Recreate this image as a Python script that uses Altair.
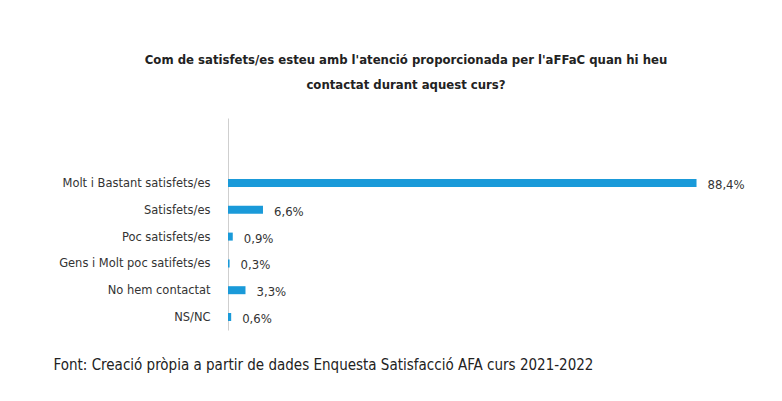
import altair as alt
import pandas as pd

categories = [
    "Molt i Bastant satisfets/es",
    "Satisfets/es",
    "Poc satisfets/es",
    "Gens i Molt poc satifets/es",
    "No hem contactat",
    "NS/NC",
]
values = [88.4, 6.6, 0.9, 0.3, 3.3, 0.6]
value_labels = ["88,4%", "6,6%", "0,9%", "0,3%", "3,3%", "0,6%"]

title_lines = [
    "Com de satisfets/es esteu amb l'atenció proporcionada per l'aFFaC quan hi heu",
    "contactat durant aquest curs?",
]
footer = "Font: Creació pròpia a partir de dades Enquesta Satisfacció AFA curs 2021-2022"

FONT = "Liberation Sans Narrow, DejaVu Sans Condensed, sans-serif"
BAR = "#1a9ad9"

df = pd.DataFrame({"cat": categories, "val": values, "lab": value_labels})

y = alt.Y(
    "cat:N",
    sort=categories,
    scale=alt.Scale(paddingOuter=1, paddingInner=0.09, align=0.985),
    axis=alt.Axis(
        title=None,
        ticks=False,
        domainColor="#cfcfcf",
        labelFont=FONT,
        labelFontSize=12.75,
        labelColor="#333333",
        labelPadding=18,
        labelLimit=300,
    ),
)
x = alt.X(
    "val:Q",
    scale=alt.Scale(domain=[0, 100]),
    axis=alt.Axis(
        labels=False,
        ticks=False,
        domain=False,
        grid=False,
        title=footer,
        titleFont=FONT,
        titleFontSize=15,
        titleFontWeight="normal",
        titleColor="#222222",
        titleAnchor="start",
        titleAlign="left",
        titleBaseline="middle",
        titleX=-175,
        titleY=34,
    ),
)

bars = alt.Chart(df).mark_bar(color=BAR, size=8).encode(x=x, y=y)
texts = alt.Chart(df).mark_text(
    align="left", baseline="middle", dx=11, dy=2, font=FONT, fontSize=13, color="#333333"
).encode(x="val:Q", y=alt.Y("cat:N", sort=categories), text="lab:N")

chart = (
    (bars + texts)
    .properties(
        width=530,
        height=212,
        autosize=alt.AutoSizeParams(type="none"),
        padding={"left": 220, "top": 110, "right": 16, "bottom": 63},
        title=alt.TitleParams(
            text=title_lines,
            anchor="middle",
            frame="group",
            dx=-87,
            offset=26,
            font=FONT,
            fontSize=13,
            fontWeight="bold",
            color="#222222",
            lineHeight=25,
        ),
        background="white",
    )
    .configure_view(stroke=None)
)

chart.save("out.html", embed_options={"renderer": "svg", "actions": False})
